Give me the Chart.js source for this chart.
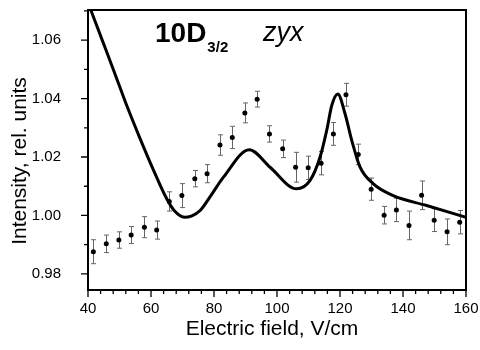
<!DOCTYPE html>
<html lang="en">
<head>
<meta charset="UTF-8">
<title>10D3/2 zyx</title>
<script src="https://cdn.jsdelivr.net/npm/chart.js@4.4.5/dist/chart.umd.min.js"></script>
<style>
    html, body { margin: 0; padding: 0; background: #fff; }
</style>
</head>
<body>
<canvas id="myChart" width="480" height="350"></canvas>

<script>
    // measured points
    const fieldX = [41.7, 45.8, 49.8, 53.7, 57.9, 61.8, 65.8, 69.8, 73.9, 77.8,
        81.9, 85.8, 89.8, 93.7, 97.6, 101.8, 105.9, 109.9, 114, 117.9,
        121.9, 125.8, 129.9, 134, 137.9, 141.9, 145.9, 149.9, 154, 158];
    const intensity = [0.9876, 0.9903, 0.9916, 0.9933, 0.9960, 0.9950, 1.0048, 1.0068, 1.0126, 1.0143,
        1.0241, 1.0267, 1.0351, 1.0398, 1.0279, 1.0228, 1.0165, 1.0163, 1.0179, 1.0279,
        1.0413, 1.0209, 1.0090, 1.0001, 1.0019, 0.9966, 1.0069, 0.9984, 0.9944, 0.9977];
    const errors = [0.0041, 0.0030, 0.0028, 0.0029, 0.0036, 0.0031, 0.0033, 0.0041, 0.0028, 0.0031,
        0.0035, 0.0038, 0.0034, 0.0027, 0.0028, 0.0030, 0.0051, 0.0040, 0.0040, 0.0039,
        0.0039, 0.0035, 0.0038, 0.0030, 0.0040, 0.0049, 0.0049, 0.0039, 0.0044, 0.0040];

    // calculated curve
    const fitX = [40.9, 44.3, 48.3, 52.3, 56.5, 61, 65, 67.5, 70.6, 73, 75.6, 79, 83, 91.2, 97.8,
        106.2, 110.5, 113.7, 115.8, 117.4, 119.3, 121.6, 123.7, 126.3, 130.6, 136.9, 147.5, 160];
    const fitY = [1.0703, 1.0606, 1.0492, 1.0376, 1.0264, 1.0150, 1.0057, 1.0015, 0.9994, 0.9999, 1.0017, 1.0068, 1.0131, 1.0225, 1.0165,
        1.0091, 1.0120, 1.0201, 1.0292, 1.0377, 1.0416, 1.0348, 1.0258, 1.0167, 1.0108, 1.0068, 1.0034, 0.9994];

    const xTicks = [40, 60, 80, 100, 120, 140, 160];
    const yTicks = [0.98, 1.00, 1.02, 1.04, 1.06];
    const xMinorStep = 4;
    const yMinorStep = 0.01;

    const FONT = '"Liberation Sans", Arial, Helvetica, sans-serif';

    const extras = {
        id: 'extras',
        beforeDatasetsDraw(chart) {
            const ctx = chart.ctx;
            const x = chart.scales.x, y = chart.scales.y;
            ctx.save();
            ctx.strokeStyle = '#666';
            ctx.lineWidth = 1;
            for (let i = 0; i < fieldX.length; i++) {
                const px = Math.round(x.getPixelForValue(fieldX[i])) + 0.5;
                const top = y.getPixelForValue(intensity[i] + errors[i]);
                const bot = y.getPixelForValue(intensity[i] - errors[i]);
                ctx.beginPath();
                ctx.moveTo(px, top); ctx.lineTo(px, bot);
                ctx.moveTo(px - 2.5, top); ctx.lineTo(px + 2.5, top);
                ctx.moveTo(px - 2.5, bot); ctx.lineTo(px + 2.5, bot);
                ctx.stroke();
            }
            ctx.restore();
        },
        afterDraw(chart) {
            const ctx = chart.ctx;
            const a = chart.chartArea;
            const x = chart.scales.x, y = chart.scales.y;
            ctx.save();
            ctx.strokeStyle = '#000';
            ctx.lineWidth = 2;
            ctx.strokeRect(a.left, a.top, a.right - a.left, a.bottom - a.top);

            // ticks, long on labels, short in between
            ctx.lineWidth = 1.3;
            ctx.beginPath();
            for (let v = 40; v <= 160.001; v += xMinorStep) {
                const px = x.getPixelForValue(v);
                const len = xTicks.some(t => Math.abs(t - v) < 1e-6) ? 7 : 4;
                ctx.moveTo(px, a.bottom); ctx.lineTo(px, a.bottom + len);
            }
            for (let v = 0.98; v <= 1.0701; v += yMinorStep) {
                const py = y.getPixelForValue(v);
                const len = yTicks.some(t => Math.abs(t - v) < 1e-6) ? 7 : 4;
                ctx.moveTo(a.left, py); ctx.lineTo(a.left - len, py);
            }
            ctx.stroke();

            // axis titles
            ctx.fillStyle = '#000';
            ctx.font = '21px ' + FONT;
            ctx.textAlign = 'center';
            ctx.textBaseline = 'middle';
            ctx.fillText('Electric field, V/cm', 272, 329);
            ctx.save();
            ctx.translate(20, 161);
            ctx.rotate(-Math.PI / 2);
            ctx.fillText('Intensity, rel. units', 0, 0);
            ctx.restore();

            // label in the corner
            ctx.textAlign = 'left';
            ctx.textBaseline = 'alphabetic';
            ctx.font = 'bold 28px ' + FONT;
            ctx.fillText('10D', 155, 42);
            const w = ctx.measureText('10D').width;
            ctx.font = 'bold 15px ' + FONT;
            ctx.fillText('3/2', 155 + w + 1, 52);
            ctx.font = 'italic 27px ' + FONT;
            ctx.fillText('zyx', 263, 41);
            ctx.restore();
        }
    };

    const config = {
        type: 'scatter',
        data: {
            datasets: [{
                label: 'fit',
                data: fitX.map((v, i) => ({x: v, y: fitY[i]})),
                showLine: true,
                borderColor: '#000',
                borderWidth: 3,
                pointRadius: 0,
                cubicInterpolationMode: 'monotone'
            }, {
                label: 'experiment',
                data: fieldX.map((v, i) => ({x: v, y: intensity[i]})),
                showLine: false,
                pointRadius: 2.5,
                pointBackgroundColor: '#000',
                pointBorderWidth: 0
            }]
        },
        options: {
            responsive: false,
            animation: false,
            layout: {padding: {left: 0, top: 10, right: 14, bottom: 0}},
            scales: {
                x: {
                    type: 'linear',
                    min: 40,
                    max: 160,
                    grid: {display: false},
                    border: {display: false},
                    afterBuildTicks: s => { s.ticks = xTicks.map(v => ({value: v})); },
                    afterFit: s => { s.height = 60; s.paddingLeft = 0; s.paddingRight = 0; },
                    ticks: {
                        color: '#000',
                        font: {family: FONT, size: 15},
                        padding: 2,
                        maxRotation: 0,
                        callback: v => v
                    }
                },
                y: {
                    min: 0.9745,
                    max: 1.0703,
                    grid: {display: false},
                    border: {display: false},
                    afterBuildTicks: s => { s.ticks = yTicks.map(v => ({value: v})); },
                    afterFit: s => { s.width = 88; s.paddingTop = 0; s.paddingBottom = 0; },
                    ticks: {
                        color: '#000',
                        font: {family: FONT, size: 15},
                        padding: 19,
                        callback: v => v.toFixed(2)
                    }
                }
            },
            plugins: {
                legend: {display: false},
                tooltip: {enabled: false}
            }
        },
        plugins: [extras]
    };

    const ctx = document.getElementById('myChart').getContext('2d');
    const myChart = new Chart(ctx, config);
</script>
</body>
</html>
